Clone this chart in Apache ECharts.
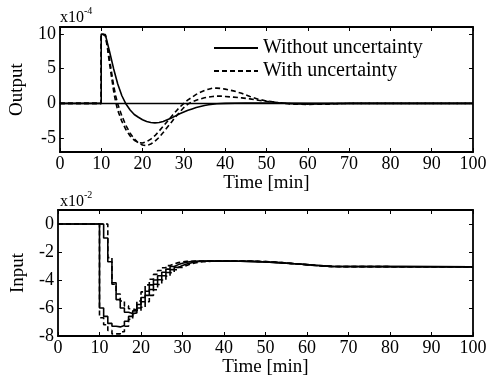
<!DOCTYPE html>
<html><head><meta charset="utf-8">
<script src="https://cdn.jsdelivr.net/npm/echarts@6/dist/echarts.min.js"></script>
<style>html,body{margin:0;padding:0;background:#fff}#c{width:491px;height:379px}</style>
</head><body><div id="c"></div>
<script>
// ---- Top panel: Output (x1e-4) ----
const tOutSolid = [0, 10, 10, 11, 12, 13, 14, 15, 16, 17, 18, 19, 20, 21, 22, 23, 24, 25, 26, 27, 28, 29, 30, 31, 32, 33, 34, 35, 36, 37, 38, 40, 45, 50, 60, 100];
const outWithout = [0, 0, 10, 9.9, 7.5, 5.0, 2.8, 1.1, -0.1, -0.95, -1.6, -2.0, -2.35, -2.6, -2.75, -2.8, -2.75, -2.6, -2.35, -2.1, -1.8, -1.5, -1.25, -1.0, -0.8, -0.6, -0.45, -0.3, -0.2, -0.12, -0.05, 0, 0.05, 0.05, 0, 0];
const tOutDash = [0, 10, 10, 11, 11.5, 12, 12.5, 13, 13.5, 14, 15, 16, 17, 18, 19, 20, 21, 22, 23, 24, 25, 26, 27, 28, 29, 30, 31, 32, 33, 34, 35, 36, 37, 38, 39, 40, 42, 44, 46, 48, 50, 53, 56, 60, 65, 70, 100];
const outWith1 = [0, 0, 10, 9.8, 8.0, 5.8, 3.8, 1.8, 0.2, -1.0, -2.6, -3.8, -4.7, -5.3, -5.65, -5.7, -5.5, -5.15, -4.65, -4.0, -3.3, -2.6, -1.9, -1.2, -0.55, 0, 0.5, 0.9, 1.3, 1.6, 1.85, 2.05, 2.2, 2.2, 2.15, 2.05, 1.8, 1.45, 1.0, 0.6, 0.35, 0.1, -0.1, -0.15, -0.1, 0, 0];
const outWith2 = [0, 0, 10, 9.8, 8.3, 6.4, 4.5, 2.6, 1.1, -0.1, -1.8, -3.2, -4.3, -5.1, -5.7, -6.0, -6.1, -5.85, -5.45, -4.9, -4.2, -3.45, -2.7, -1.95, -1.25, -0.6, -0.1, 0.2, 0.45, 0.65, 0.8, 0.9, 1.0, 1.05, 1.05, 1.0, 0.9, 0.8, 0.65, 0.45, 0.3, 0.1, -0.05, -0.1, -0.05, 0, 0];

// ---- Bottom panel: Input (x1e-2), sampled, zero-order hold ----
const tIn = [0, 10, 11, 12, 13, 14, 15, 16, 17, 18, 19, 20, 21, 22, 23, 24, 25, 26, 27, 28, 29, 30, 31, 32, 33, 34, 35, 36, 37, 38, 39, 40, 42, 44, 46, 48, 50, 52, 54, 56, 58, 60, 62, 64, 66, 100];
const inWithoutA = [0, -6.0, -6.6, -7.1, -7.3, -7.35, -7.25, -6.95, -6.6, -6.2, -5.75, -5.25, -4.8, -4.35, -4.0, -3.7, -3.45, -3.22, -3.04, -2.9, -2.8, -2.73, -2.69, -2.66, -2.65, -2.65, -2.65, -2.65, -2.65, -2.65, -2.65, -2.65, -2.66, -2.67, -2.69, -2.71, -2.74, -2.78, -2.82, -2.86, -2.9, -2.95, -2.99, -3.03, -3.06, -3.06];
const inWithoutB = [0, 0, -1.0, -2.7, -4.2, -5.4, -6.0, -6.3, -6.4, -6.35, -6.0, -5.55, -5.1, -4.68, -4.3, -3.98, -3.7, -3.46, -3.26, -3.1, -2.96, -2.86, -2.78, -2.72, -2.68, -2.66, -2.65, -2.65, -2.65, -2.65, -2.65, -2.65, -2.66, -2.67, -2.69, -2.71, -2.74, -2.78, -2.82, -2.86, -2.9, -2.95, -2.99, -3.03, -3.06, -3.06];
const inWithC = [0, -6.7, -7.2, -7.6, -7.85, -7.85, -7.7, -7.3, -6.8, -6.2, -5.5, -4.85, -4.35, -3.95, -3.6, -3.32, -3.12, -2.97, -2.85, -2.76, -2.7, -2.67, -2.66, -2.65, -2.65, -2.65, -2.65, -2.65, -2.65, -2.65, -2.65, -2.65, -2.65, -2.65, -2.67, -2.69, -2.72, -2.76, -2.81, -2.86, -2.91, -2.96, -3.0, -3.04, -3.06, -3.06];
const inWithD = [0, 0, 0, -2.4, -4.3, -5.0, -5.5, -5.85, -6.05, -6.15, -6.2, -5.95, -5.55, -5.1, -4.7, -4.32, -4.0, -3.72, -3.47, -3.27, -3.1, -2.96, -2.86, -2.78, -2.73, -2.7, -2.68, -2.66, -2.65, -2.65, -2.65, -2.65, -2.65, -2.65, -2.67, -2.69, -2.72, -2.76, -2.81, -2.86, -2.91, -2.96, -3.0, -3.04, -3.06, -3.06];

// ---- Axis tick labels ----
const xTicks = [0, 10, 20, 30, 40, 50, 60, 70, 80, 90, 100];
const yTicksOut = [-5, 0, 5, 10];
const yTicksIn = [-8, -6, -4, -2, 0];

const F = 'Liberation Serif';
const pairs = (t, v) => t.map((x, i) => [x, v[i]]);
const chart = echarts.init(document.getElementById('c'), null, {renderer: 'canvas'});

function xAx(grid, pos, labels, name, gap) {
  return {
    type: 'value', gridIndex: grid, position: pos, min: 0, max: 100,
    axisLine: {show: true, onZero: false, lineStyle: {color: '#000', width: 1.8}},
    axisTick: {show: true, inside: true, length: 4, customValues: xTicks, lineStyle: {color: '#000', width: 1}},
    axisLabel: {show: labels, customValues: xTicks, margin: 3, color: '#000', fontFamily: F, fontSize: 18},
    splitLine: {show: false},
    name: name || '', nameLocation: 'middle', nameGap: gap || 21,
    nameTextStyle: {color: '#000', fontFamily: F, fontSize: 19}
  };
}
function yAx(grid, pos, labels, min, max, ticks, name) {
  return {
    type: 'value', gridIndex: grid, position: pos, min: min, max: max,
    axisLine: {show: true, onZero: false, lineStyle: {color: '#000', width: 1.8}},
    axisTick: {show: true, inside: true, length: 4, customValues: ticks, lineStyle: {color: '#000', width: 1}},
    axisLabel: {show: labels, customValues: ticks, margin: 4, color: '#000', fontFamily: F, fontSize: 18},
    splitLine: {show: false},
    name: name || '', nameLocation: 'middle', nameGap: 30, nameRotate: 90,
    nameTextStyle: {color: '#000', fontFamily: F, fontSize: 19}
  };
}

const solid = {color: '#000', width: 1.6, type: 'solid'};
const dashed = {color: '#000', width: 1.6, type: [5, 3]};

const option = {
  backgroundColor: '#fff',
  animation: false,
  grid: [
    {left: 58, right: 18, top: 27, height: 125},
    {left: 58, right: 18, top: 210, height: 126}
  ],
  xAxis: [
    xAx(0, 'bottom', true, 'Time [min]', 21),
    xAx(0, 'top', false),
    xAx(1, 'bottom', true, 'Time [min]', 19),
    xAx(1, 'top', false)
  ],
  yAxis: [
    yAx(0, 'left', true, -7, 11, yTicksOut, 'Output'),
    yAx(0, 'right', false, -7, 11, yTicksOut),
    yAx(1, 'left', true, -8, 1, yTicksIn, 'Input'),
    yAx(1, 'right', false, -8, 1, yTicksIn)
  ],
  legend: {
    orient: 'vertical', left: 208, top: 33, itemWidth: 44, itemHeight: 10, itemGap: 3,
    data: ['Without uncertainty', 'With uncertainty'],
    itemStyle: {opacity: 0},
    textStyle: {color: '#000', fontFamily: F, fontSize: 20},
    selectedMode: false
  },
  series: [
    {name: 'Without uncertainty', type: 'line', xAxisIndex: 0, yAxisIndex: 0, data: pairs(tOutSolid, outWithout),
     showSymbol: false, symbol: 'none', lineStyle: solid, itemStyle: {color: '#000'}, z: 3,
     markLine: {silent: true, symbol: 'none', label: {show: false}, lineStyle: {color: '#000', width: 1.4, type: 'solid'}, data: [{yAxis: 0}]}},
    {name: 'With uncertainty', type: 'line', xAxisIndex: 0, yAxisIndex: 0, data: pairs(tOutDash, outWith1),
     showSymbol: false, symbol: 'none', lineStyle: dashed, itemStyle: {color: '#000'}},
    {name: 'With uncertainty', type: 'line', xAxisIndex: 0, yAxisIndex: 0, data: pairs(tOutDash, outWith2),
     showSymbol: false, symbol: 'none', lineStyle: dashed, itemStyle: {color: '#000'}},
    {name: 'Without uncertainty', type: 'line', step: 'end', xAxisIndex: 2, yAxisIndex: 2, data: pairs(tIn, inWithoutA),
     showSymbol: false, symbol: 'none', lineStyle: solid, itemStyle: {color: '#000'}},
    {name: 'Without uncertainty', type: 'line', step: 'end', xAxisIndex: 2, yAxisIndex: 2, data: pairs(tIn, inWithoutB),
     showSymbol: false, symbol: 'none', lineStyle: solid, itemStyle: {color: '#000'}},
    {name: 'With uncertainty', type: 'line', step: 'end', xAxisIndex: 2, yAxisIndex: 2, data: pairs(tIn, inWithC),
     showSymbol: false, symbol: 'none', lineStyle: dashed, itemStyle: {color: '#000'}},
    {name: 'With uncertainty', type: 'line', step: 'end', xAxisIndex: 2, yAxisIndex: 2, data: pairs(tIn, inWithD),
     showSymbol: false, symbol: 'none', lineStyle: dashed, itemStyle: {color: '#000'}}
  ],
  graphic: [
    {type: 'text', left: 60, top: 10, style: {text: 'x10', fill: '#000', font: '16px "Liberation Serif"'}},
    {type: 'text', left: 84, top: 6, style: {text: '-4', fill: '#000', font: '10px "Liberation Serif"'}},
    {type: 'text', left: 60, top: 194, style: {text: 'x10', fill: '#000', font: '16px "Liberation Serif"'}},
    {type: 'text', left: 84, top: 190, style: {text: '-2', fill: '#000', font: '10px "Liberation Serif"'}}
  ]
};
chart.setOption(option);
</script>
</body></html>
